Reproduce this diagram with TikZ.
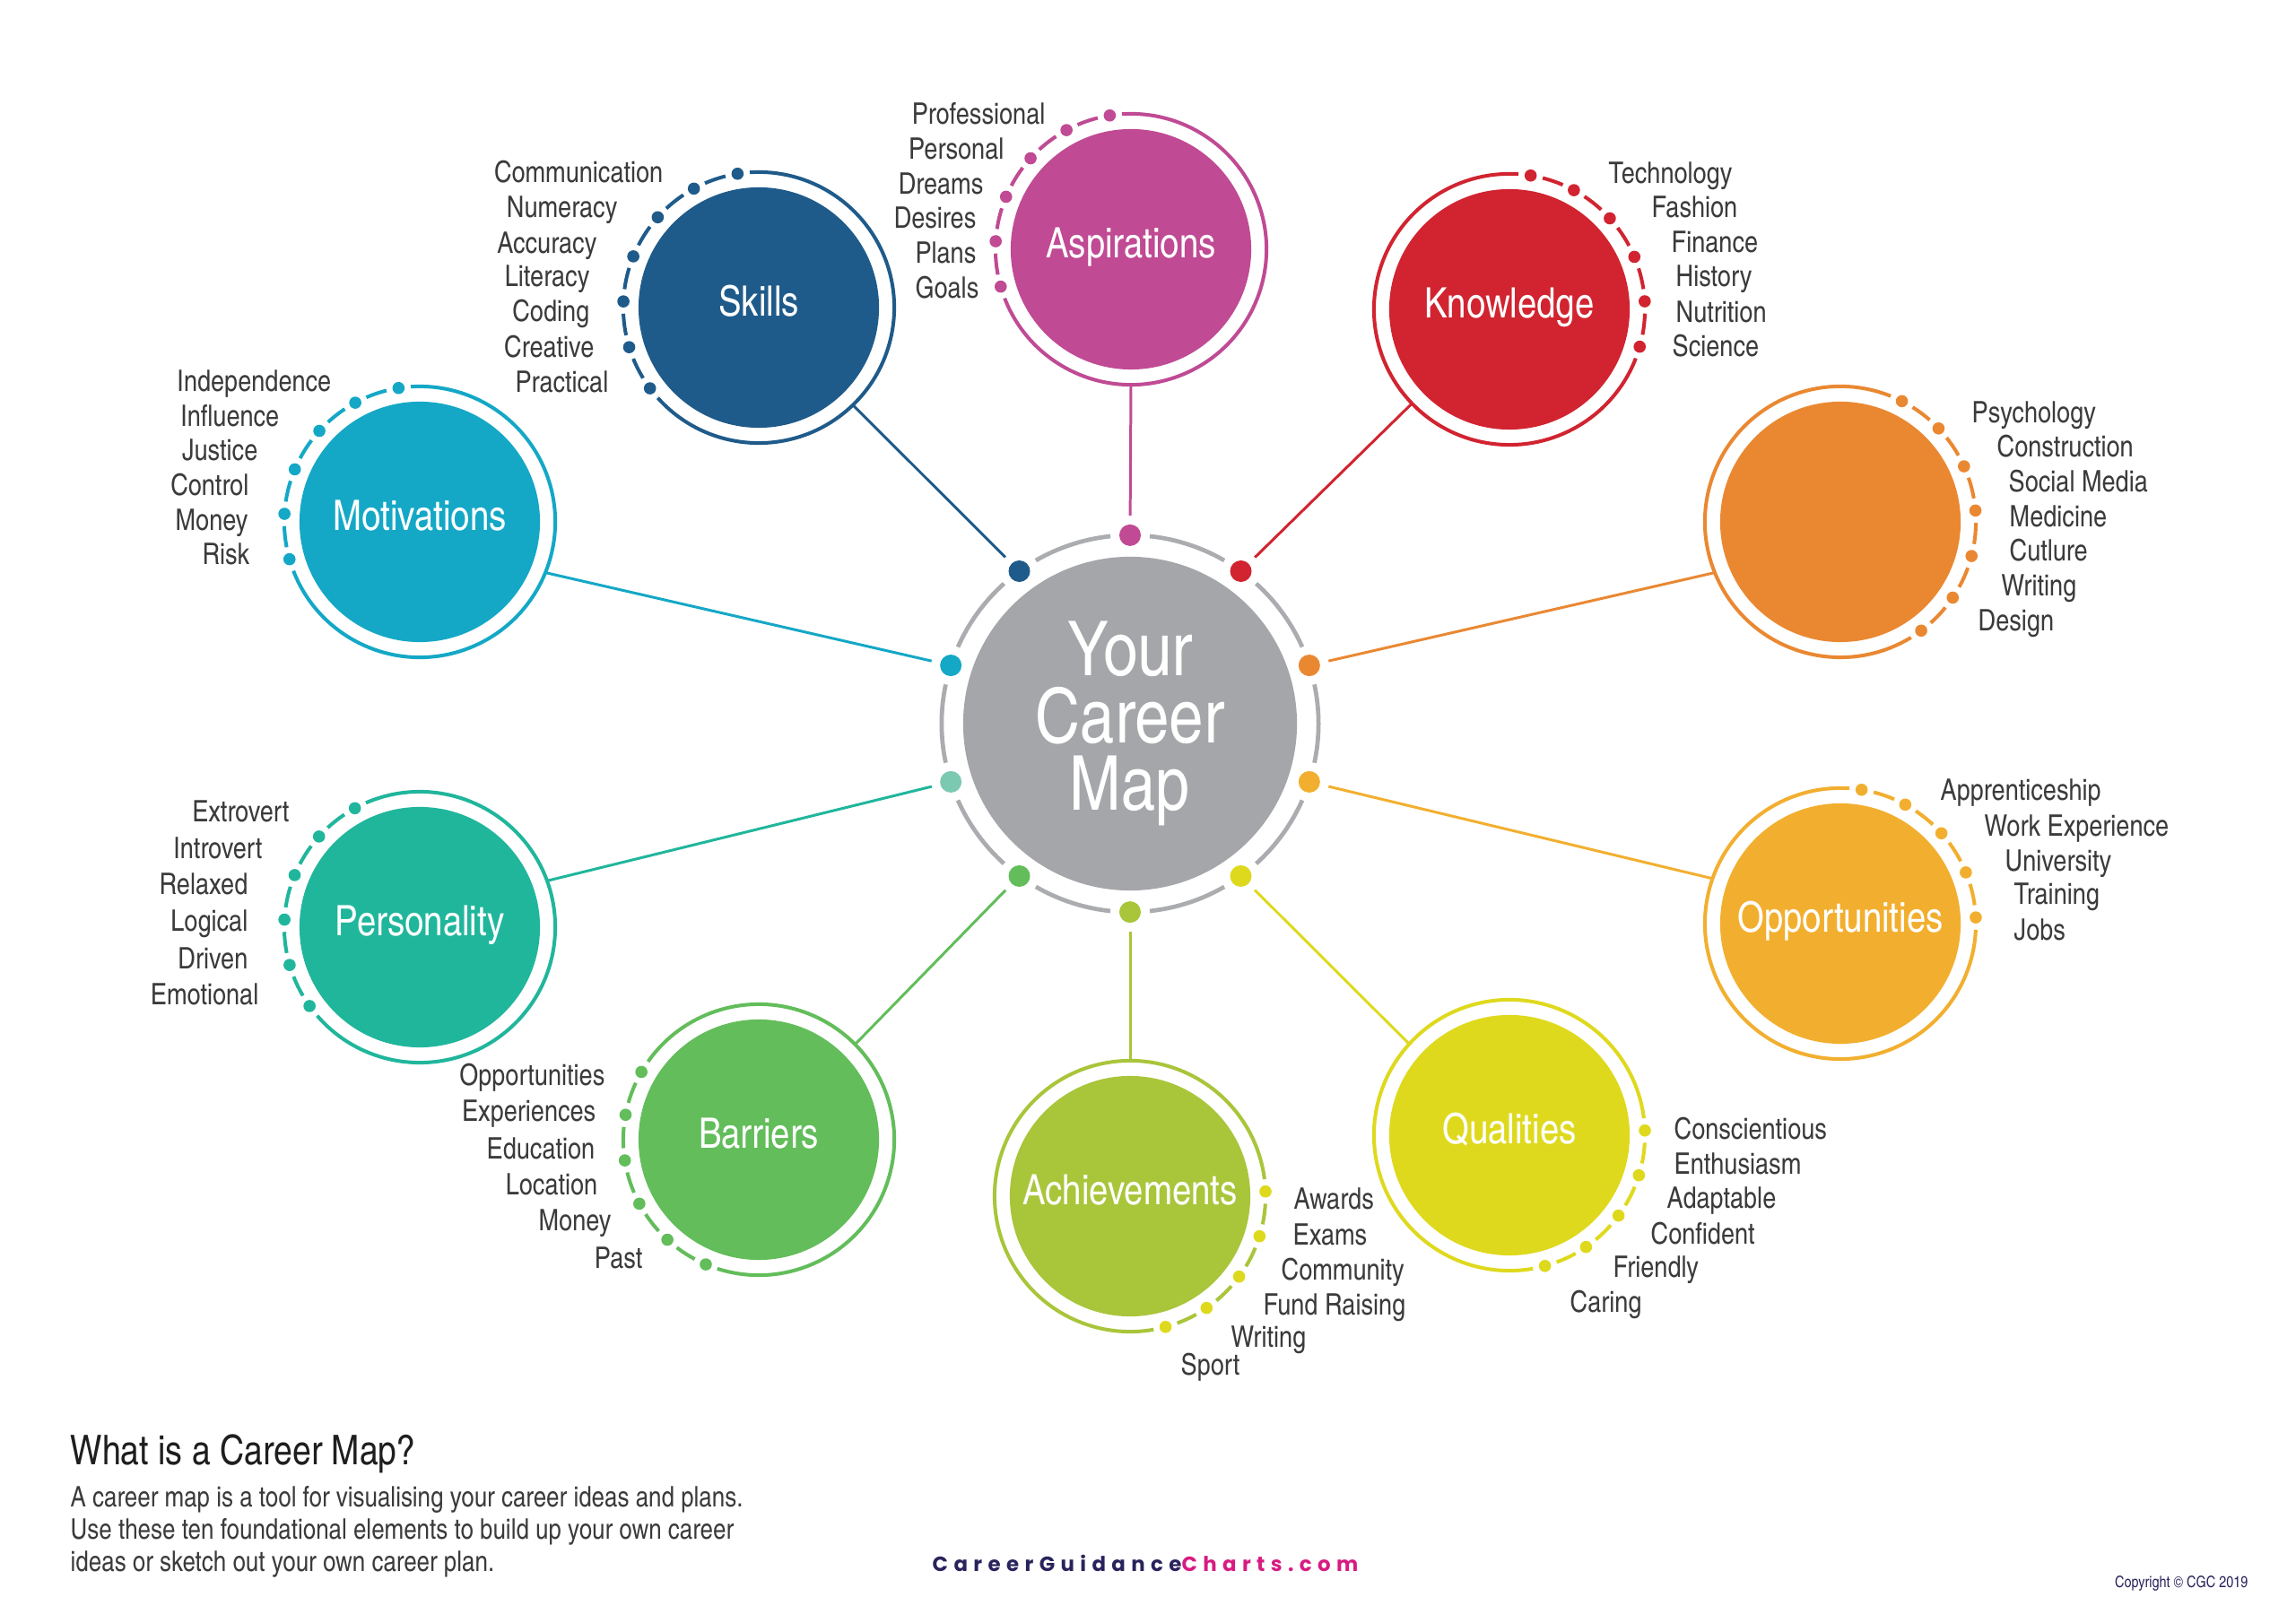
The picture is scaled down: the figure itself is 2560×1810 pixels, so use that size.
\documentclass[tikz,border=0pt]{standalone}
\usepackage{fontspec}
\IfFontExistsTF{TeX Gyre Heros Cn}
  {\setmainfont{TeX Gyre Heros Cn}}
  {\setmainfont{TeX Gyre Heros}[FakeStretch=0.82]}
\newfontfamily\webfont{Poppins}[LetterSpace=28]
\definecolor{cSkills}{HTML}{1F5B8A}
\definecolor{cAsp}{HTML}{C04A94}
\definecolor{cKnow}{HTML}{D12430}
\definecolor{cMot}{HTML}{14A8C6}
\definecolor{cOrg}{HTML}{EA8832}
\definecolor{cPers}{HTML}{20B69C}
\definecolor{cPersDot}{HTML}{7CC9B2}
\definecolor{cOpp}{HTML}{F2AF2F}
\definecolor{cBarr}{HTML}{62BD5A}
\definecolor{cAch}{HTML}{A9C53A}
\definecolor{cQual}{HTML}{DFD91E}
\definecolor{cGrey}{HTML}{A4A6A9}
\definecolor{cRing}{HTML}{ABACAF}
\definecolor{cText}{HTML}{3B3B3B}
\definecolor{cTitle}{HTML}{1E1E1E}
\definecolor{cNavy}{HTML}{29235C}
\definecolor{cMag}{HTML}{D81B82}
% #1 node, #2 ring colour, #3 dot colour, #4 first angle, #5 step, #6 count
\newcommand{\satring}[6]{%
  \pgfmathsetmacro{\ringL}{#4+(#6-1)*#5}%
  \pgfmathtruncatemacro{\ringN}{#6-1}%
  \draw[ringline=#2] ([shift={(\ringL+5.2:1.51cm)}]#1.center)
     arc[start angle=\ringL+5.2, end angle=#4+354.8, radius=1.51cm];
  \foreach \k in {1,...,\ringN}{%
    \pgfmathsetmacro{\angA}{#4+(\k-1)*#5+5.2}%
    \pgfmathsetmacro{\angB}{#4+\k*#5-5.2}%
    \draw[ringline=#2] ([shift={(\angA:1.51cm)}]#1.center)
       arc[start angle=\angA, end angle=\angB, radius=1.51cm];
  }
  \foreach \k in {0,...,\ringN}{%
    \fill[#3] ([shift={(#4+\k*#5:1.51cm)}]#1.center) circle[radius=0.068cm];
  }
}
\begin{document}
\begin{tikzpicture}[x=0.01cm,y=0.01cm,
  satnode/.style={circle, fill=#1, minimum size=2.68cm, inner sep=0pt,
    text=white, font=\fontsize{13.3}{15}\selectfont, text height=9.5pt, text depth=4pt},
  ringline/.style={draw=#1, line width=1.14pt},
  conn/.style={draw=#1, line width=0.85pt, shorten <=0.22cm},
  listitem/.style={text=cText, font=\fontsize{9.4}{11}\selectfont, inner sep=0pt},
  li/.style={listitem, anchor=base east},
  ri/.style={listitem, anchor=base west}]
\fill[white] (0,0) rectangle (2560,-1810);
\useasboundingbox (0,0) rectangle (2560,-1810);

% hub
\node[circle, fill=cGrey, minimum size=3.72cm, inner sep=0pt, text=white,
  align=center, font=\fontsize{24}{21.3}\selectfont] (hub) at (1260,-807) {Your\\Career\\Map};

% satellites
\node[satnode=cAsp] (asp) at (1261,-278) {Aspirations};
\node[satnode=cSkills] (skills) at (846,-343) {Skills};
\node[satnode=cKnow] (know) at (1683,-345) {Knowledge};
\node[satnode=cMot] (mot) at (468,-582) {Motivations};
\node[satnode=cOrg] (org) at (2052,-582) {};
\node[satnode=cPers] (pers) at (468,-1034) {Personality};
\node[satnode=cOpp] (opp) at (2052,-1030) {Opportunities};
\node[satnode=cBarr] (barr) at (846,-1271) {Barriers};
\node[satnode=cQual] (qual) at (1683,-1266) {Qualities};
\node[satnode=cAch] (ach) at (1260,-1334) {Achievements};

% hub dots
\coordinate (dAsp) at ([shift={(90:2.1cm)}]hub.center);
\coordinate (dKnow) at ([shift={(54:2.1cm)}]hub.center);
\coordinate (dOrg) at ([shift={(18:2.1cm)}]hub.center);
\coordinate (dOpp) at ([shift={(-18:2.1cm)}]hub.center);
\coordinate (dQual) at ([shift={(-54:2.1cm)}]hub.center);
\coordinate (dAch) at ([shift={(-90:2.1cm)}]hub.center);
\coordinate (dBarr) at ([shift={(-126:2.1cm)}]hub.center);
\coordinate (dPers) at ([shift={(-162:2.1cm)}]hub.center);
\coordinate (dMot) at ([shift={(162:2.1cm)}]hub.center);
\coordinate (dSkills) at ([shift={(126:2.1cm)}]hub.center);

% connectors
\draw[conn=cAsp] (dAsp) -- ([shift={(270:1.51cm)}]asp.center);
\draw[conn=cSkills] (dSkills) -- ([shift={(314:1.51cm)}]skills.center);
\draw[conn=cKnow] (dKnow) -- ([shift={(224:1.51cm)}]know.center);
\draw[conn=cMot] (dMot) -- ([shift={(338:1.51cm)}]mot.center);
\draw[conn=cOrg] (dOrg) -- ([shift={(202:1.51cm)}]org.center);
\draw[conn=cPers] (dPers) -- ([shift={(20:1.51cm)}]pers.center);
\draw[conn=cOpp] (dOpp) -- ([shift={(160.6:1.51cm)}]opp.center);
\draw[conn=cBarr] (dBarr) -- ([shift={(44.7:1.51cm)}]barr.center);
\draw[conn=cQual] (dQual) -- ([shift={(137.7:1.51cm)}]qual.center);
\draw[conn=cAch] (dAch) -- ([shift={(90:1.51cm)}]ach.center);

% hub ring
\foreach \k in {0,...,9}{
  \pgfmathsetmacro{\angA}{90+36*\k+6}
  \pgfmathsetmacro{\angB}{126+36*\k-6}
  \draw[cRing, line width=1.35pt] ([shift={(\angA:2.1cm)}]hub.center)
    arc[start angle=\angA, end angle=\angB, radius=2.1cm];
}
\fill[cAsp] (dAsp) circle[radius=0.12cm];
\fill[cKnow] (dKnow) circle[radius=0.12cm];
\fill[cOrg] (dOrg) circle[radius=0.12cm];
\fill[cOpp] (dOpp) circle[radius=0.12cm];
\fill[cQual] (dQual) circle[radius=0.12cm];
\fill[cAch] (dAch) circle[radius=0.12cm];
\fill[cBarr] (dBarr) circle[radius=0.12cm];
\fill[cPersDot] (dPers) circle[radius=0.12cm];
\fill[cMot] (dMot) circle[radius=0.12cm];
\fill[cSkills] (dSkills) circle[radius=0.12cm];

% satellite rings
\satring{asp}{cAsp}{cAsp}{99}{19.4}{6}
\satring{skills}{cSkills}{cSkills}{99}{19.6}{7}
\satring{know}{cKnow}{cKnow}{-16}{19.4}{6}
\satring{mot}{cMot}{cMot}{99}{19.4}{6}
\satring{org}{cOrg}{cOrg}{-53.4}{19.4}{7}
\satring{pers}{cPers}{cPers}{118.6}{19.4}{6}
\satring{opp}{cOpp}{cOpp}{2.6}{19.6}{5}
\satring{barr}{cBarr}{cBarr}{150}{19.4}{6}
\satring{qual}{cQual}{cQual}{-74.8}{19.2}{5}
\satring{ach}{cAch}{cQual}{-74.8}{19.2}{5}

% lists
\node[li] (a1) at (1166,-139) {Professional};
\node[li] (a2) at (1120,-178) {Personal};
\node[li] (a3) at (1097,-217) {Dreams};
\node[li] (a4) at (1089,-255) {Desires};
\node[li] (a5) at (1089,-294) {Plans};
\node[li] (a6) at (1092,-333) {Goals};

\node[li] (s1) at (740,-204) {Communication};
\node[li] (s2) at (689,-243) {Numeracy};
\node[li] (s3) at (666,-283) {Accuracy};
\node[li] (s4) at (658,-320) {Literacy};
\node[li] (s5) at (658,-359) {Coding};
\node[li] (s6) at (663,-399) {Creative};
\node[li] (s7) at (679,-438) {Practical};

\node[ri] (k1) at (1793,-205) {Technology};
\node[ri] (k2) at (1841,-243) {Fashion};
\node[ri] (k3) at (1863,-282) {Finance};
\node[ri] (k4) at (1868,-320) {History};
\node[ri] (k5) at (1868,-360) {Nutrition};
\node[ri] (k6) at (1864,-398) {Science};

\node[li] (m1) at (370,-437) {Independence};
\node[li] (m2) at (312,-476) {Influence};
\node[li] (m3) at (288,-514) {Justice};
\node[li] (m4) at (278,-553) {Control};
\node[li] (m5) at (277,-592) {Money};
\node[li] (m6) at (279,-630) {Risk};

\node[ri] (o1) at (2198,-472) {Psychology};
\node[ri] (o2) at (2226,-510) {Construction};
\node[ri] (o3) at (2239,-549) {Social Media};
\node[ri] (o4) at (2240,-588) {Medicine};
\node[ri] (o5) at (2240,-626) {Cutlure};
\node[ri] (o6) at (2231,-665) {Writing};
\node[ri] (o7) at (2205,-704) {Design};

\node[li] (p1) at (323,-917) {Extrovert};
\node[li] (p2) at (293,-958) {Introvert};
\node[li] (p3) at (277,-998) {Relaxed};
\node[li] (p4) at (277,-1039) {Logical};
\node[li] (p5) at (277,-1081) {Driven};
\node[li] (p6) at (289,-1121) {Emotional};

\node[ri] (q1) at (2163,-893) {Apprenticeship};
\node[ri] (q2) at (2212,-933) {Work Experience};
\node[ri] (q3) at (2235,-972) {University};
\node[ri] (q4) at (2245,-1009) {Training};
\node[ri] (q5) at (2245,-1049) {Jobs};

\node[li] (b1) at (675,-1211) {Opportunities};
\node[li] (b2) at (665,-1251) {Experiences};
\node[li] (b3) at (664,-1292) {Education};
\node[li] (b4) at (667,-1332) {Location};
\node[li] (b5) at (682,-1372) {Money};
\node[li] (b6) at (717,-1414) {Past};

\node[ri] (h1) at (1442,-1348) {Awards};
\node[ri] (h2) at (1441,-1388) {Exams};
\node[ri] (h3) at (1428,-1427) {Community};
\node[ri] (h4) at (1408,-1466) {Fund Raising};
\node[ri] (h5) at (1372,-1502) {Writing};
\node[ri] (h6) at (1316,-1533) {Sport};

\node[ri] (u1) at (1866,-1271) {Conscientious};
\node[ri] (u2) at (1866,-1310) {Enthusiasm};
\node[ri] (u3) at (1858,-1347) {Adaptable};
\node[ri] (u4) at (1840,-1387) {Confident};
\node[ri] (u5) at (1798,-1424) {Friendly};
\node[ri] (u6) at (1750,-1463) {Caring};

% footer
\node[anchor=base west, inner sep=0pt, text=cTitle, font=\fontsize{13}{15}\selectfont] (title) at (78,-1633) {What is a Career Map?};
\node[anchor=north west, inner sep=0pt, align=left, text=cText, font=\fontsize{9}{10.2}\selectfont] (para) at (78,-1657)
  {A career map is a tool for visualising your career ideas and plans.\\
   Use these ten foundational elements to build up your own career\\
   ideas or sketch out your own career plan.};
\node[anchor=base, inner sep=0pt, font=\webfont\bfseries\fontsize{6.5}{8}\selectfont] (web) at (1277,-1752)
  {\textcolor{cNavy}{CareerGuidance}\textcolor{cMag}{Charts.com}};
\node[anchor=base east, inner sep=0pt, text=cNavy, font=\fontsize{5}{6}\selectfont] (copy) at (2507,-1770) {Copyright © CGC 2019};
\end{tikzpicture}
\end{document}
